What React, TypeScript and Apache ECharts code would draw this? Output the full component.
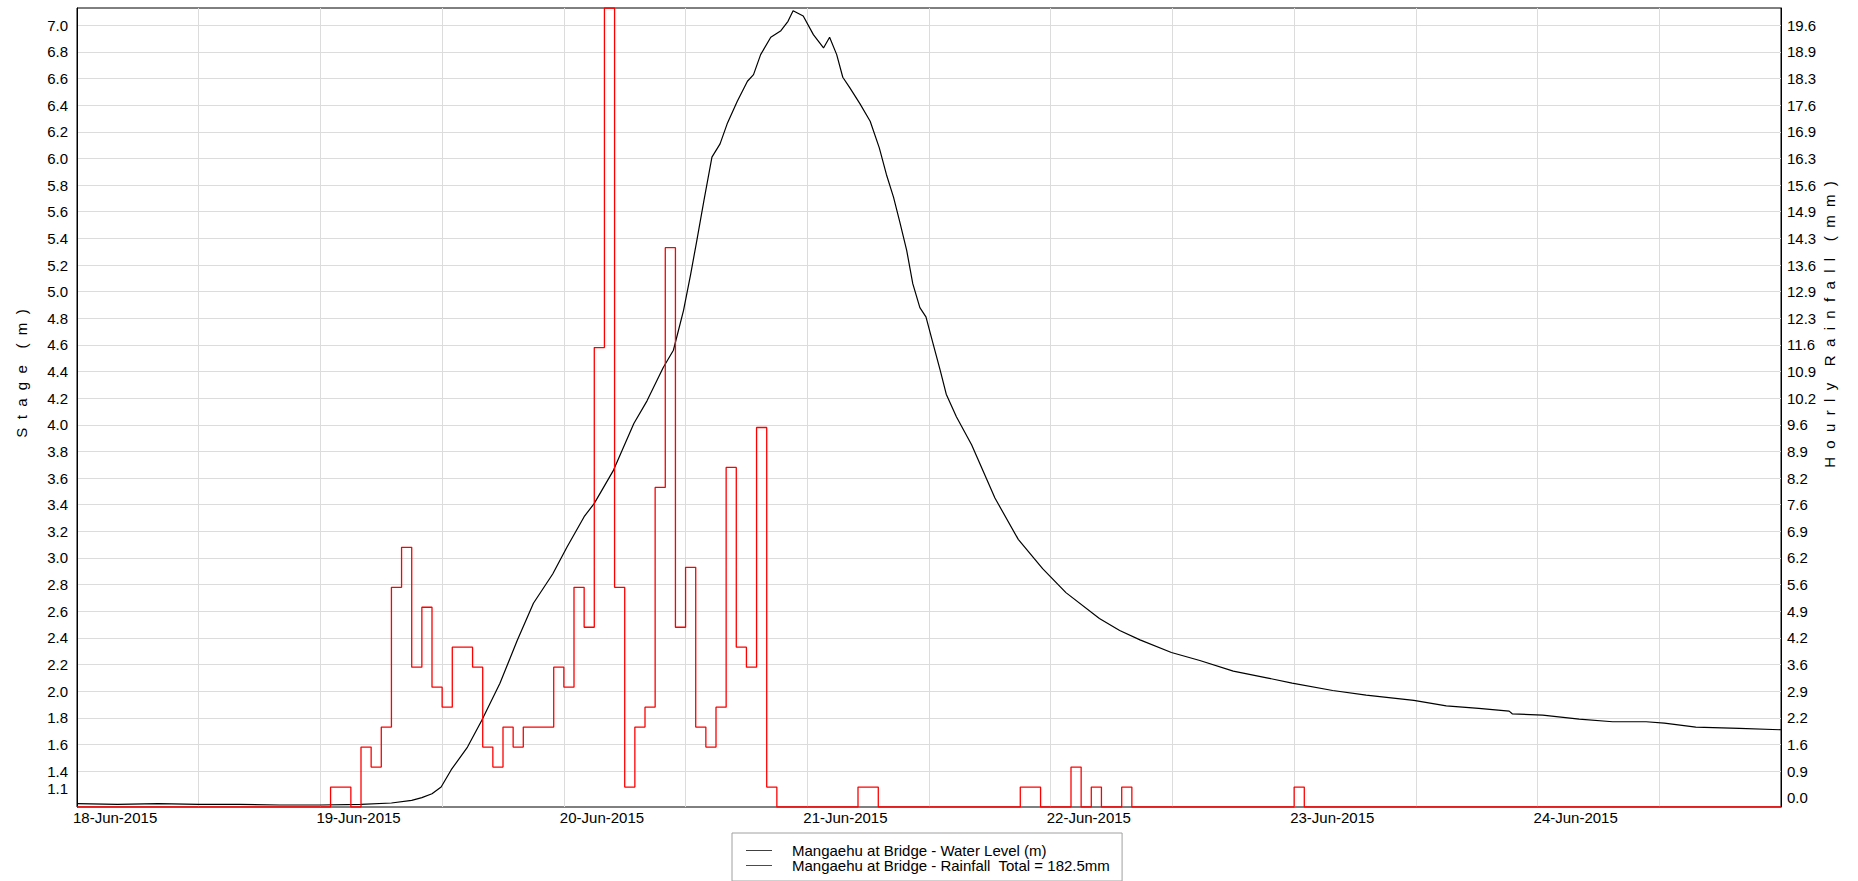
import React, { useEffect, useRef } from "react";
import * as echarts from "echarts";

// ---------- data ----------
const dayLabels = [
  "18-Jun-2015",
  "19-Jun-2015",
  "20-Jun-2015",
  "21-Jun-2015",
  "22-Jun-2015",
  "23-Jun-2015",
  "24-Jun-2015",
];

// hours since 18-Jun-2015 00:00
const waterHours = [
  0, 4, 8, 12, 16, 20, 24, 28, 31, 33, 34, 35, 35.9, 36.9, 38.5, 39.9, 41.7, 43.4, 45, 46.9,
  48.3, 50, 51, 52.9, 54.9, 56.2, 57.8, 58.8, 59.8, 60.5, 61.1, 61.8, 62.6, 63.4, 64.1, 65.1,
  66.1, 66.7, 67.4, 68.4, 69.4, 70.1, 70.6, 71.6, 72.6, 73.6, 74.2, 74.9, 75.5, 76.2, 77.2,
  78.2, 79.1, 79.8, 80.5, 81.1, 81.8, 82.4, 83.1, 83.7, 84.4, 85.1, 85.7, 86.7, 88.2, 90.5,
  92.8, 95.2, 97.5, 100.8, 102.8, 104.8, 107.9, 110.7, 114, 117.3, 119.8, 123.8, 127.1,
  131.8, 135, 138.2, 141.2, 141.5, 144.5, 148.1, 151.4, 154.7, 156.5, 159.6, 163.9, 168,
];
const waterLevel = [
  1.155, 1.15, 1.155, 1.15, 1.15, 1.145, 1.145, 1.15, 1.16, 1.18, 1.2, 1.23, 1.28, 1.41, 1.58,
  1.78, 2.06, 2.38, 2.66, 2.88, 3.08, 3.31, 3.41, 3.66, 4.01, 4.18, 4.43, 4.56, 4.86, 5.13,
  5.38, 5.68, 6.01, 6.11, 6.26, 6.43, 6.58, 6.63, 6.78, 6.91, 6.96, 7.03, 7.11, 7.07, 6.93,
  6.83, 6.91, 6.78, 6.61, 6.53, 6.41, 6.28, 6.08, 5.88, 5.71, 5.53, 5.31, 5.06, 4.88, 4.81,
  4.61, 4.41, 4.23, 4.06, 3.85, 3.45, 3.14, 2.92, 2.74, 2.545, 2.455, 2.385, 2.29, 2.23, 2.15,
  2.1, 2.06, 2.005, 1.97, 1.93, 1.89, 1.87, 1.85, 1.83, 1.82, 1.79, 1.77, 1.77, 1.76, 1.73,
  1.72, 1.71,
];

// hourly rainfall (start hour of each hour with rain, mm)
const rainStartHour = [
  25, 26, 28, 29, 30, 31, 32, 33, 34, 35, 36, 37, 38, 39, 40, 41, 42, 43, 44, 45, 46, 47, 48, 49,
  50, 51, 52, 53, 54, 55, 56, 57, 58, 59, 60, 61, 62, 63, 64, 65, 66, 67, 68, 77, 78, 93, 94, 98,
  100, 103, 120,
];
const rainMm = [
  0.5, 0.5, 1.5, 1.0, 2.0, 5.5, 6.5, 3.5, 5.0, 3.0, 2.5, 4.0, 4.0, 3.5, 1.5, 1.0, 2.0, 1.5, 2.0,
  2.0, 2.0, 3.5, 3.0, 5.5, 4.5, 11.5, 20.0, 5.5, 0.5, 2.0, 2.5, 8.0, 14.0, 4.5, 6.0, 2.0, 1.5,
  2.5, 8.5, 4.0, 3.5, 9.5, 0.5, 0.5, 0.5, 0.5, 0.5, 1.0, 0.5, 0.5, 0.5,
];

// tick labels
const stageTicks = [
  1.4, 1.6, 1.8, 2.0, 2.2, 2.4, 2.6, 2.8, 3.0, 3.2, 3.4, 3.6, 3.8, 4.0, 4.2, 4.4, 4.6, 4.8, 5.0,
  5.2, 5.4, 5.6, 5.8, 6.0, 6.2, 6.4, 6.6, 6.8, 7.0,
];
const stageBottomLabel = "1.1";
const rainTickLabels = [
  "0.9", "1.6", "2.2", "2.9", "3.6", "4.2", "4.9", "5.6", "6.2", "6.9", "7.6", "8.2", "8.9",
  "9.6", "10.2", "10.9", "11.6", "12.3", "12.9", "13.6", "14.3", "14.9", "15.6", "16.3", "16.9",
  "17.6", "18.3", "18.9", "19.6",
];
const rainBottomLabel = "0.0";

const WATER_NAME = "Mangaehu at Bridge - Water Level (m)";
const RAIN_NAME = "Mangaehu at Bridge - Rainfall  Total = 182.5mm";

const STAGE_MIN = 1.13;
const STAGE_MAX = 7.13;
const RAIN_MAX = 20;
const HOURS = 168;

const FONT = '"Liberation Sans", Arial, Helvetica, sans-serif';

export default function App() {
  const ref = useRef<HTMLDivElement>(null);

  useEffect(() => {
    if (!ref.current) return;
    const chart = echarts.init(ref.current, undefined, { renderer: "svg" });

    const rainMap = new Map<number, number>();
    rainStartHour.forEach((h, i) => rainMap.set(h, rainMm[i]));
    const rainData: number[][] = [];
    for (let h = 0; h < HOURS; h++) rainData.push([h, rainMap.get(h) ?? 0]);
    rainData.push([HOURS, 0]);

    const waterData = waterHours.map((h, i) => [h, waterLevel[i]]);

    const toRain = (s: number) => ((s - STAGE_MIN) / (STAGE_MAX - STAGE_MIN)) * RAIN_MAX;
    const rainTickValues = stageTicks.map(toRain);

    const gridColor = "#dcdcdc";

    chart.setOption({
      animation: false,
      backgroundColor: "#ffffff",
      textStyle: { fontFamily: FONT },
      grid: {
        left: 77,
        right: 77,
        top: 8,
        bottom: 74,
        show: true,
        borderColor: "#000",
        borderWidth: 1,
        backgroundColor: "transparent",
        containLabel: false,
        outerBoundsMode: "none",
      },
      legend: {
        orient: "vertical",
        left: 732,
        top: 833,
        padding: [10, 12, 8, 14],
        itemGap: 0,
        itemWidth: 26,
        itemHeight: 1,
        borderColor: "#a0a0a0",
        borderWidth: 1,
        backgroundColor: "#fff",
        selectedMode: false,
        textStyle: {
          fontSize: 15,
          color: "#000",
          fontFamily: FONT,
          lineHeight: 14,
          padding: [0, 0, 0, 15],
        },
        data: [
          { name: WATER_NAME, icon: "rect", itemStyle: { color: "#404040" } },
          { name: RAIN_NAME, icon: "rect", itemStyle: { color: "#ff0000" } },
        ],
      },
      xAxis: {
        type: "value",
        min: 0,
        max: HOURS,
        interval: 12,
        axisLine: { show: false },
        axisTick: { show: false },
        splitLine: { show: true, lineStyle: { color: gridColor, width: 1 } },
        axisLabel: {
          show: true,
          color: "#000",
          fontSize: 15,
          fontFamily: FONT,
          margin: 3,
          align: "left",
          padding: [0, 0, 0, -4],
          showMaxLabel: false,
          formatter: (v: number) => {
            const r = Math.round(v);
            if (r % 24 === 0 && r < HOURS) return dayLabels[r / 24];
            return "";
          },
        },
      },
      yAxis: [
        {
          type: "value",
          min: STAGE_MIN,
          max: STAGE_MAX,
          position: "left",
          name: "S  t  a  g  e    (  m  )",
          nameLocation: "middle",
          nameGap: 48,
          nameMoveOverlap: false,
          nameTextStyle: {
            fontSize: 15,
            color: "#000",
            fontFamily: FONT,
            padding: [0, 0, 0, 68],
          },
          axisLine: { show: true, lineStyle: { color: "#000", width: 1 } },
          axisTick: { show: false, customValues: stageTicks },
          splitLine: { show: true, lineStyle: { color: gridColor, width: 1 } },
          axisLabel: {
            customValues: stageTicks,
            color: "#000",
            fontSize: 15,
            fontFamily: FONT,
            margin: 9,
            formatter: (v: number) => v.toFixed(1),
          },
        },
        {
          type: "value",
          min: 0,
          max: RAIN_MAX,
          position: "right",
          name: "H  o  u  r  l  y    R  a  i  n  f  a  l  l    (  m  m  )",
          nameLocation: "middle",
          nameGap: 41,
          nameMoveOverlap: false,
          nameTextStyle: {
            fontSize: 15,
            color: "#000",
            fontFamily: FONT,
            padding: [0, 0, 0, 166],
          },
          axisLine: { show: true, lineStyle: { color: "#000", width: 1 } },
          axisTick: { show: false, customValues: rainTickValues },
          splitLine: { show: false },
          axisLabel: {
            customValues: rainTickValues,
            color: "#000",
            fontSize: 15,
            fontFamily: FONT,
            margin: 6,
            formatter: (v: number) => {
              let best = 0;
              let bd = Infinity;
              rainTickValues.forEach((t, i) => {
                const d = Math.abs(t - v);
                if (d < bd) {
                  bd = d;
                  best = i;
                }
              });
              return rainTickLabels[best];
            },
          },
        },
      ],
      graphic: [
        {
          type: "text",
          x: 68,
          y: 788,
          style: {
            text: stageBottomLabel,
            align: "right",
            verticalAlign: "middle",
            fontSize: 15,
            fontFamily: FONT,
            fill: "#000",
          },
        },
        {
          type: "text",
          x: 1787,
          y: 797,
          style: {
            text: rainBottomLabel,
            align: "left",
            verticalAlign: "middle",
            fontSize: 15,
            fontFamily: FONT,
            fill: "#000",
          },
        },
      ],
      series: [
        {
          name: WATER_NAME,
          type: "line",
          yAxisIndex: 0,
          data: waterData,
          showSymbol: false,
          symbol: "none",
          lineStyle: { color: "#000", width: 1.2 },
          itemStyle: { color: "#000" },
          z: 2,
        },
        {
          name: RAIN_NAME,
          type: "line",
          yAxisIndex: 1,
          step: "end",
          data: rainData,
          showSymbol: false,
          symbol: "none",
          lineStyle: { color: "#ff0000", width: 1.3 },
          itemStyle: { color: "#ff0000" },
          z: 3,
        },
      ],
    });

    return () => chart.dispose();
  }, []);

  return (
    <div
      ref={ref}
      style={{ position: "fixed", left: 0, top: 0, width: 1858, height: 881, background: "#fff" }}
    />
  );
}
